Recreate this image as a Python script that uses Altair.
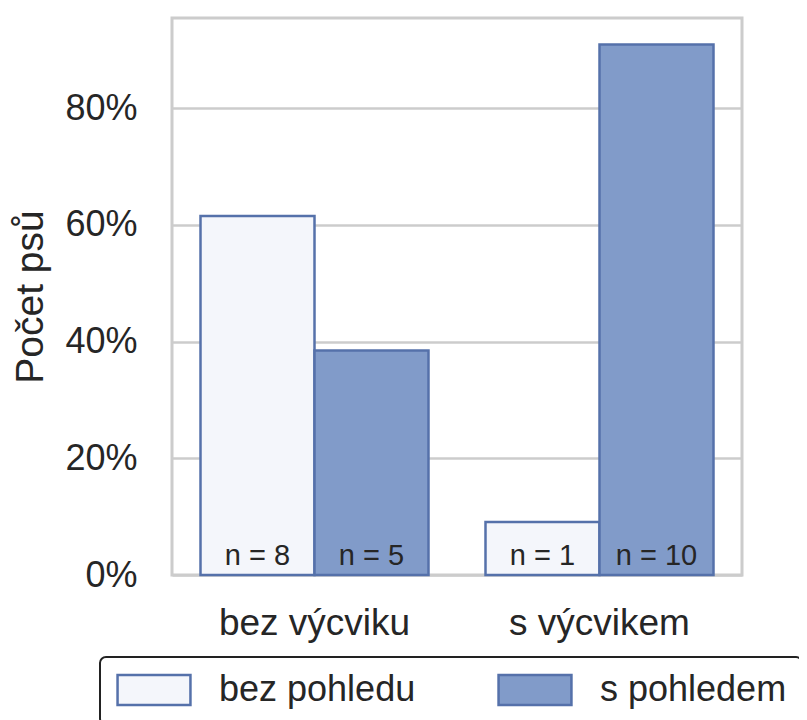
import altair as alt
import pandas as pd

# --- data ---
categories = ["bez výcviku", "s výcvikem"]
series = ["bez pohledu", "s pohledem"]
training = ["bez výcviku", "bez výcviku", "s výcvikem", "s výcvikem"]
gaze = ["bez pohledu", "s pohledem", "bez pohledu", "s pohledem"]
counts = [8, 5, 1, 10]
y_ticks = [0, 0.2, 0.4, 0.6, 0.8]

df = pd.DataFrame({"training": training, "gaze": gaze, "count": counts})
df["total"] = df.groupby("training")["count"].transform("sum")
df["share"] = df["count"] / df["total"]
df["label"] = ["n = " + str(c) for c in counts]

FONT = "Liberation Sans"
EDGE = "#5571aa"

x = alt.X(
    "training:N",
    sort=categories,
    scale=alt.Scale(paddingInner=0.2, paddingOuter=0.1),
    axis=alt.Axis(title=None, labelAngle=0, labelFontSize=37, labelPadding=30,
                  labelLimit=0, ticks=False, tickSize=0, domain=False, grid=False,
                  labelColor="#262626", labelFont=FONT),
)
xo = alt.XOffset("gaze:N", sort=series, scale=alt.Scale(paddingInner=0, paddingOuter=0))
y = alt.Y(
    "share:Q",
    scale=alt.Scale(domain=[0, 0.9545], nice=False, zero=True),
    axis=alt.Axis(values=y_ticks, format=".0%", title="Počet psů", titleFontSize=39,
                  titleFontWeight="normal", titleColor="#262626", titlePadding=14,
                  titleFont=FONT, labelFont=FONT, labelLimit=0,
                  labelFontSize=36, labelColor="#262626", labelPadding=35,
                  ticks=False, tickSize=0, domain=False, grid=True,
                  gridColor="#cccccc", gridWidth=2.5),
)
color = alt.Color(
    "gaze:N",
    sort=series,
    scale=alt.Scale(domain=series, range=["#f4f6fb", "#819bc9"]),
    legend=alt.Legend(
        title=None, orient="none", legendX=-72, legendY=639, direction="horizontal",
        symbolType="M-2.43,-1H2.43V1H-2.43Z", symbolSize=900, symbolStrokeWidth=2.5,
        symbolStrokeColor=EDGE, symbolOpacity=1, symbolOffset=21,
        labelFontSize=36, labelFont=FONT, labelLimit=0,
        labelColor="#262626", labelOffset=47, columnPadding=77, padding=15,
        strokeColor="#222222", cornerRadius=6, fillColor="white",
    ),
)

bars = alt.Chart(df).mark_bar(stroke=EDGE, strokeWidth=2.5, opacity=1).encode(
    x=x, xOffset=xo, y=y, color=color
)
text = alt.Chart(df).mark_text(
    fontSize=29, font=FONT, color="#262626", baseline="alphabetic", dy=-10
).encode(x=x, xOffset=xo, y=alt.datum(0), text="label:N")

chart = (
    alt.layer(bars, text)
    .properties(
        width=570, height=557,
        autosize=alt.AutoSizeParams(type="none"),
        padding={"left": 164, "top": 10, "right": 57, "bottom": 150},
        background="white",
    )
    .configure_view(stroke="#cccccc", strokeWidth=3)
    .configure_legend(strokeWidth=2)
)

chart.save("out.html", embed_options={"renderer": "svg", "actions": False})
